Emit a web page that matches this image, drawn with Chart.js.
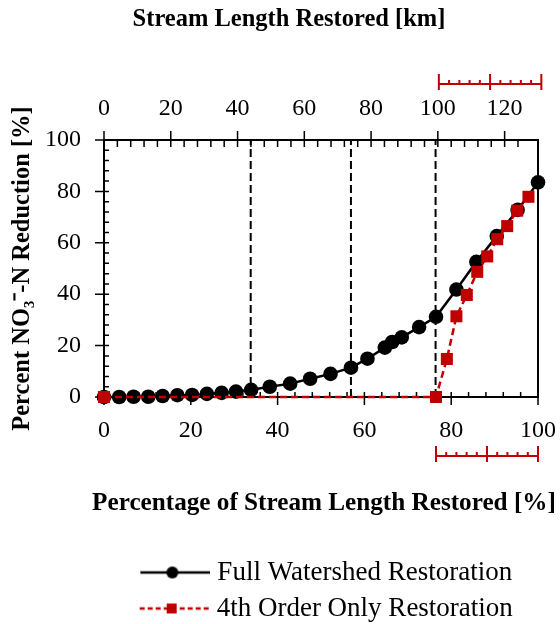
<!DOCTYPE html>
<html>
<head>
<meta charset="utf-8">
<script src="https://cdn.jsdelivr.net/npm/chart.js@4.4.1/dist/chart.umd.min.js"></script>
<style>
  body { margin: 0; background: #fff; }
  canvas { display: block; }
</style>
</head>
<body>
<canvas id="myChart" width="560" height="624"></canvas>
<script>
// percentage of stream length restored (x) and % NO3-N reduction (y)
const fullPct = [0, 3.5, 6.8, 10.2, 13.5, 16.9, 20.3, 23.7, 27.1, 30.4, 33.9, 38.2, 42.9, 47.5, 52.2, 56.9, 60.7, 64.7, 66.4, 68.6, 72.6, 76.5, 81.2, 85.8, 90.5, 95.3, 100];
const fullRed = [0, 0, 0.1, 0.1, 0.4, 0.7, 0.8, 1.2, 1.6, 2.1, 2.8, 4.0, 5.2, 7.1, 9.0, 11.4, 14.9, 19.2, 21.4, 23.2, 27.2, 31.2, 41.8, 52.6, 62.6, 72.8, 83.5];
const orderPct = [0, 76.5, 79, 81.2, 83.6, 86, 88.3, 90.6, 92.9, 95.2, 97.8];
const orderRed = [0, 0, 14.8, 31.4, 39.7, 48.7, 54.7, 61.4, 66.5, 72.5, 77.9];
const seriesNames = ['Full Watershed Restoration', '4th Order Only Restoration'];

// vertical dashed markers (% restored)
const markerPct = [33.8, 56.9, 76.4];
// red range bars: bottom in %, top in km
const rangePct = [76.5, 100];
const rangeKm = [100.3, 131];

const totalKm = 130;
const majorStep = 20;
const minorStep = 4;

const xTitle = 'Percentage of Stream Length Restored [%]';
const darkRed = '#C00000';
const serif = 'Liberation Serif';

Chart.defaults.font.family = serif;
Chart.defaults.color = '#000';

function pts(xs, ys) {
    return xs.map((v, i) => ({ x: v, y: ys[i] }));
}

// legend symbols: line + marker (transparent margin on the left)
function legendIcon(color, dashed, square) {
    const c = document.createElement('canvas');
    c.width = 87; c.height = 16;
    const g = c.getContext('2d');
    g.strokeStyle = color;
    g.fillStyle = color;
    g.lineWidth = 2.5;
    if (dashed) g.setLineDash([5, 3]);
    g.beginPath(); g.moveTo(17, 8); g.lineTo(87, 8); g.stroke();
    g.setLineDash([]);
    if (square) g.fillRect(44, 3, 10, 10);
    else { g.beginPath(); g.arc(49, 8, 6, 0, Math.PI * 2); g.fill(); }
    return c;
}
const icons = [legendIcon('#000', false, false), legendIcon(darkRed, true, true)];

const isMajor = v => Math.abs(v / majorStep - Math.round(v / majorStep)) < 1e-6;
const onMinor = t => Math.abs(t.value / minorStep - Math.round(t.value / minorStep)) < 1e-6;

const tickMarks = {
    id: 'tickMarks',
    beforeDatasetsDraw(chart) {
        const { ctx, scales: { x, x2, y } } = chart;
        ctx.save();
        ctx.strokeStyle = '#000';
        ctx.lineWidth = 1.5;
        ctx.beginPath();
        y.ticks.forEach(t => {
            const p = y.getPixelForValue(t.value);
            ctx.moveTo(y.right - (isMajor(t.value) ? 9 : 0), p);
            ctx.lineTo(y.right + 5, p);
        });
        x.ticks.forEach(t => {
            const p = x.getPixelForValue(t.value);
            ctx.moveTo(p, x.top - 5);
            ctx.lineTo(p, x.top + (isMajor(t.value) ? 8 : 0));
        });
        x2.ticks.forEach(t => {
            const p = x2.getPixelForValue(t.value);
            ctx.moveTo(p, x2.bottom + 7);
            ctx.lineTo(p, x2.bottom - (isMajor(t.value) ? 9 : 0));
        });
        ctx.stroke();
        ctx.restore();
    },
    afterDatasetsDraw(chart) {
        const { ctx, chartArea, scales: { x, x2 } } = chart;
        ctx.save();
        ctx.strokeStyle = darkRed;
        ctx.lineWidth = 2;
        drawRange(ctx, x2, rangeKm, chartArea.top - 56);
        drawRange(ctx, x, rangePct, chartArea.bottom + 59);
        // bottom axis title (wider than the axis, so drawn here)
        ctx.fillStyle = '#000';
        ctx.font = 'bold 25.2px "Liberation Serif"';
        ctx.textAlign = 'center';
        ctx.textBaseline = 'middle';
        ctx.fillText(xTitle, (chartArea.left + chartArea.right) / 2 + 3, chartArea.bottom + 106);
        ctx.restore();
    }
};

function drawRange(ctx, scale, range, yy) {
    const a = range[0], b = range[1];
    ctx.beginPath();
    ctx.moveTo(scale.getPixelForValue(a), yy);
    ctx.lineTo(scale.getPixelForValue(b), yy);
    for (let i = 0; i <= 10; i++) {
        const p = scale.getPixelForValue(a + (b - a) * i / 10);
        if (i % 5 === 0) {
            ctx.moveTo(p, yy - 10); ctx.lineTo(p, yy + 6);
        } else {
            ctx.moveTo(p, yy - 4); ctx.lineTo(p, yy);
        }
    }
    ctx.stroke();
}

const datasets = [
    {
        label: seriesNames[0],
        data: pts(fullPct, fullRed),
        showLine: true,
        borderColor: '#000',
        backgroundColor: '#000',
        borderWidth: 2.5,
        pointStyle: 'circle',
        pointRadius: 7.3,
        pointBorderWidth: 0,
        pointBackgroundColor: '#000',
        clip: false,
        order: 1
    },
    {
        label: seriesNames[1],
        data: pts(orderPct, orderRed),
        showLine: true,
        borderColor: darkRed,
        backgroundColor: darkRed,
        borderWidth: 2.5,
        borderDash: [7, 4],
        pointStyle: 'rect',
        pointRadius: 8.5,
        pointBorderWidth: 0,
        pointBackgroundColor: darkRed,
        clip: false,
        order: 0
    }
];
markerPct.forEach(v => {
    datasets.push({
        label: 'marker',
        data: [{ x: v, y: 0 }, { x: v, y: 100 }],
        showLine: true,
        borderColor: '#000',
        borderWidth: 2,
        borderDash: [8, 4],
        pointRadius: 0,
        order: 2
    });
});

const tickFont = { family: serif, size: 24 };
const titleFont = { family: serif, size: 24.5, weight: 'bold' };

function noEdgePadding(scale) {
    scale.paddingLeft = 0;
    scale.paddingRight = 0;
    scale.paddingTop = 0;
    scale.paddingBottom = 0;
}

new Chart(document.getElementById('myChart'), {
    type: 'scatter',
    data: { datasets: datasets },
    plugins: [tickMarks],
    options: {
        responsive: false,
        animation: false,
        events: [],
        layout: { padding: { left: 18, right: 0, top: 0, bottom: -8 } },
        plugins: {
            tooltip: { enabled: false },
            title: {
                display: true,
                text: 'Stream Length Restored [km]',
                font: titleFont,
                color: '#000',
                padding: { top: 5, bottom: 0 }
            },
            legend: {
                position: 'bottom',
                fullSize: false,
                labels: {
                    font: { family: serif, size: 27 },
                    color: '#000',
                    padding: 9,
                    usePointStyle: true,
                    pointStyleWidth: 74,
                    filter: item => item.datasetIndex < 2,
                    sort: (a, b) => a.datasetIndex - b.datasetIndex,
                    generateLabels(chart) {
                        const items = Chart.defaults.plugins.legend.labels.generateLabels(chart);
                        return items.map(it => Object.assign(it, { pointStyle: icons[it.datasetIndex] || it.pointStyle }));
                    }
                }
            }
        },
        scales: {
            x: {
                type: 'linear',
                position: 'bottom',
                min: 0,
                max: 100,
                grid: { display: false, drawTicks: false },
                border: { display: true, color: '#000', width: 2 },
                ticks: {
                    stepSize: minorStep,
                    autoSkip: false,
                    maxRotation: 0,
                    minRotation: 0,
                    padding: 19,
                    font: tickFont,
                    color: '#000',
                    callback: v => isMajor(v) ? Math.round(v) : ''
                },
                afterFit(scale) { scale.height = 153; noEdgePadding(scale); }
            },
            x2: {
                type: 'linear',
                position: 'top',
                min: 0,
                max: totalKm,
                grid: { display: false, drawTicks: false },
                border: { display: true, color: '#000', width: 2 },
                ticks: {
                    stepSize: minorStep,
                    autoSkip: false,
                    maxRotation: 0,
                    minRotation: 0,
                    padding: 17,
                    font: tickFont,
                    color: '#000',
                    callback: v => isMajor(v) ? Math.round(v) : ''
                },
                afterBuildTicks(scale) { scale.ticks = scale.ticks.filter(onMinor); },
                afterFit(scale) { scale.height = 140 - 34.4; noEdgePadding(scale); }
            },
            y: {
                type: 'linear',
                position: 'left',
                min: 0,
                max: 100,
                grid: { display: false, drawTicks: false },
                border: { display: true, color: '#000', width: 2 },
                ticks: {
                    stepSize: minorStep,
                    autoSkip: false,
                    padding: 23,
                    font: tickFont,
                    color: '#000',
                    callback: v => isMajor(v) ? Math.round(v) : ''
                },
                title: {
                    display: true,
                    text: 'Percent NO\u2083\u207B-N Reduction [%]',
                    font: titleFont,
                    color: '#000',
                    padding: { top: -10, bottom: 0 }
                },
                afterFit(scale) { scale.width = 86; noEdgePadding(scale); }
            },
            yR: {
                type: 'linear',
                position: 'right',
                min: 0,
                max: 100,
                grid: { display: false, drawTicks: false },
                border: { display: true, color: '#000', width: 2 },
                ticks: { display: false },
                afterFit(scale) { scale.width = 22; noEdgePadding(scale); }
            }
        }
    }
});
</script>
</body>
</html>
